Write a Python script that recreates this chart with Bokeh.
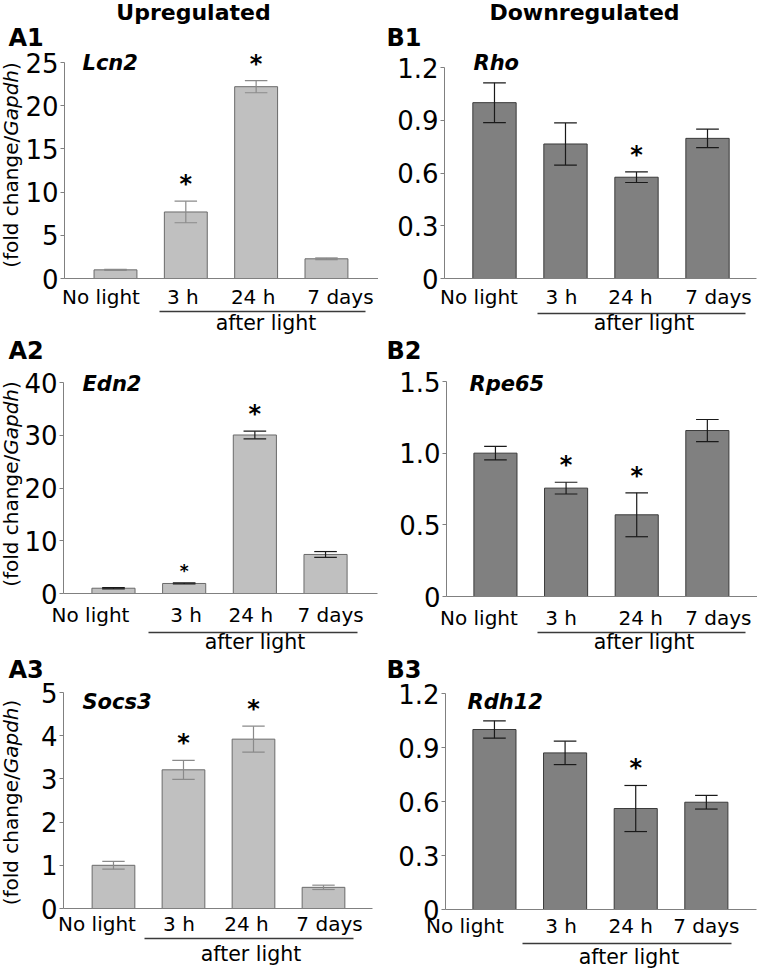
import math
from bokeh.plotting import figure
from bokeh.models import Label, FixedTicker, Range1d
from bokeh.layouts import column, row
from bokeh.embed import file_html
from bokeh.resources import INLINE

FONT = "DejaVu Sans"
BASE_FIX = 8  # rendered alphabetic baseline sits this many px lower than requested

conditions = ["No light", "3 h", "24 h", "7 days"]

lcn2_mean = [1.0, 7.7, 22.2, 2.28]
lcn2_err = [0.06, 1.25, 0.7, 0.1]
lcn2_sig = [False, True, True, False]
lcn2_ticks = [0, 5, 10, 15, 20, 25]
lcn2_labels = ["0", "5", "10", "15", "20", "25"]

edn2_mean = [1.0, 1.9, 30.05, 7.4]
edn2_err = [0.12, 0.1, 0.72, 0.55]
edn2_sig = [False, True, True, False]
edn2_ticks = [0, 10, 20, 30, 40]
edn2_labels = ["0", "10", "20", "30", "40"]

socs3_mean = [1.0, 3.21, 3.92, 0.49]
socs3_err = [0.09, 0.22, 0.3, 0.05]
socs3_sig = [False, True, True, False]
socs3_ticks = [0, 1, 2, 3, 4, 5]
socs3_labels = ["0", "1", "2", "3", "4", "5"]

rho_mean = [1.0, 0.765, 0.576, 0.797]
rho_err = [0.113, 0.12, 0.03, 0.053]
rho_sig = [False, False, True, False]
rho_ticks = [0, 0.3, 0.6, 0.9, 1.2]
rho_labels = ["0", "0.3", "0.6", "0.9", "1.2"]

rpe65_mean = [1.0, 0.756, 0.57, 1.158]
rpe65_err = [0.047, 0.041, 0.153, 0.077]
rpe65_sig = [False, True, True, False]
rpe65_ticks = [0, 0.5, 1.0, 1.5]
rpe65_labels = ["0", "0.5", "1.0", "1.5"]

rdh12_mean = [1.0, 0.87, 0.561, 0.596]
rdh12_err = [0.048, 0.065, 0.128, 0.038]
rdh12_sig = [False, False, True, False]
rdh12_ticks = [0, 0.3, 0.6, 0.9, 1.2]
rdh12_labels = ["0", "0.3", "0.6", "0.9", "1.2"]

UP_STYLE = dict(fill="#c0c0c0", edge="#6a6a6a")
DOWN_STYLE = dict(fill="#808080", edge="#3a3a3a")


def make_panel(gene, means, errs, sig, ticks, tick_labels, g, style, err_color, star_sizes):
    w, h = g["w"], g["h"]
    L, T, W, H = g["L"], g["T"], g["W"], g["H"]
    x0, x1 = g["xr"]
    ymax = ticks[-1]
    u = (x1 - x0) / W
    v = ymax / H
    X0 = x0 - L * u
    X1 = X0 + w * u
    Y1 = ymax + T * v
    Y0 = Y1 - h * v

    def dx(lx):
        return X0 + lx * u

    def dy(ly):
        return Y1 - ly * v

    def dyt(ly):  # baseline position for alphabetic text
        return dy(ly - BASE_FIX)

    p = figure(width=w, height=h, x_range=Range1d(X0, X1), y_range=Range1d(Y0, Y1),
               output_backend="svg", toolbar_location=None,
               min_border_left=0, min_border_right=0, min_border_top=0,
               min_border_bottom=0)
    p.outline_line_color = None
    p.xgrid.visible = False
    p.ygrid.visible = False
    p.background_fill_color = "white"
    p.border_fill_color = "white"

    idx = list(range(len(conditions)))
    p.vbar(x=idx, top=means, width=0.61, fill_color=style["fill"],
           line_color=style["edge"], line_width=1)

    lo = [m - e for m, e in zip(means, errs)]
    hi = [m + e for m, e in zip(means, errs)]
    cw = 0.16
    p.segment(x0=idx, y0=lo, x1=idx, y1=hi, line_color=err_color, line_width=1.2)
    p.segment(x0=[i - cw for i in idx], y0=hi, x1=[i + cw for i in idx], y1=hi,
              line_color=err_color, line_width=1.2)
    p.segment(x0=[i - cw for i in idx], y0=lo, x1=[i + cw for i in idx], y1=lo,
              line_color=err_color, line_width=1.2)

    for i, (s, top) in enumerate(zip(sig, hi)):
        if s:
            gap = 17 if star_sizes[i] == big else 12
            p.add_layout(Label(x=i, y=top + gap * v, text="*",
                               text_align="center", text_baseline="alphabetic",
                               text_font=FONT, text_font_style="bold",
                               text_font_size=star_sizes[i], text_color="black"))

    # axes drawn at fixed data locations
    yax = p.yaxis[0]
    yax.fixed_location = x0
    yax.bounds = (0, ymax)
    yax.ticker = FixedTicker(ticks=ticks)
    yax.major_label_overrides = dict(zip(ticks, tick_labels))
    yax.axis_line_color = "#808080"
    yax.major_tick_line_color = "#808080"
    yax.major_tick_out = 4
    yax.major_tick_in = 0
    yax.minor_tick_out = 0
    yax.minor_tick_in = 0
    yax.major_label_standoff = 2
    yax.major_label_text_font = FONT
    yax.major_label_text_font_size = "26px"
    yax.major_label_text_color = "black"

    xax = p.xaxis[0]
    xax.fixed_location = 0
    xax.bounds = (x0, x1)
    xax.ticker = FixedTicker(ticks=[])
    xax.axis_line_color = "#808080"
    xax.major_tick_line_color = None
    xax.minor_tick_line_color = None

    # category labels
    for i, (c, off) in enumerate(zip(conditions, g["cat_off"])):
        p.add_layout(Label(x=i, y=dyt(g["cat_y"]), x_offset=off, text=c,
                           text_align="center", text_baseline="alphabetic",
                           text_font=FONT, text_font_size="20px",
                           text_color="black"))
    # "after light" bracket line
    lx0, lx1, ly = g["line"]
    p.segment(x0=[dx(lx0)], y0=[dy(ly)], x1=[dx(lx1)], y1=[dy(ly)],
              line_color="#3a3a3a", line_width=1.5)
    ax_, ay_ = g["after"]
    p.add_layout(Label(x=dx(ax_), y=dyt(ay_), text="after light",
                       text_align="center", text_baseline="alphabetic",
                       text_font=FONT, text_font_size="20.5px", text_color="black"))
    # panel label and gene name
    px_, py_ = g["plabel_xy"]
    p.add_layout(Label(x=dx(px_), y=dyt(py_), text=g["plabel"],
                       text_align="left", text_baseline="alphabetic",
                       text_font=FONT, text_font_style="bold",
                       text_font_size="24px", text_color="black"))
    gx, gy = g["gene_xy"]
    p.add_layout(Label(x=dx(gx), y=dyt(gy), text=gene,
                       text_align="left", text_baseline="alphabetic",
                       text_font=FONT, text_font_style="bold italic",
                       text_font_size="21px", text_color="black"))
    if g.get("title"):
        t, tx, ty = g["title"]
        p.add_layout(Label(x=dx(tx), y=dyt(ty), text=t,
                           text_align="center", text_baseline="alphabetic",
                           text_font=FONT, text_font_style="bold",
                           text_font_size="22px", text_color="black"))
    if g.get("ytitle") is not None:
        yc = g["ytitle"]
        fs = 20
        pieces = [("(fold change/", "normal", 6.603), ("Gapdh", "italic", 3.292),
                  (")", "normal", 0.39)]
        total = sum(pc[2] for pc in pieces) * fs
        start = yc + total / 2
        for txt, sty, em in pieces:
            p.add_layout(Label(x=dx(10), y=dy(start), text=txt, angle=math.pi / 2,
                               text_align="left", text_baseline="middle",
                               text_font=FONT, text_font_style=sty,
                               text_font_size=f"{fs}px", text_color="black"))
            start -= em * fs
    return p


big = "24px"
small = "17px"

# row 1: page y 0-336 ; row 2: 336-655 ; row 3: 655-972
gA1 = dict(w=378, h=336, L=64, T=62, W=314, H=216, xr=(-0.725, 3.74),
           cat_y=304, cat_off=[-14.5, -3, -3, 14], line=(159, 365, 311),
           after=(265.5, 330), plabel="A1", plabel_xy=(8, 45), gene_xy=(82, 70),
           title=("Upregulated", 193, 20), ytitle=164.5)
gB1 = dict(w=379, h=336, L=66, T=67, W=312, H=211, xr=(-0.704, 3.69),
           cat_y=304, cat_off=[-15.5, -4, -6, 11], line=(159, 367, 313),
           after=(265.5, 330), plabel="B1", plabel_xy=(8, 45), gene_xy=(95, 70),
           title=("Downregulated", 206, 20), ytitle=None)
gA2 = dict(w=378, h=319, L=63, T=46, W=314, H=211, xr=(-0.707, 3.735),
           cat_y=286, cat_off=[-23, 2, -4, 5], line=(148, 357, 296),
           after=(254.5, 313), plabel="A2", plabel_xy=(8, 22), gene_xy=(82, 55),
           title=None, ytitle=147.5)
gB2 = dict(w=379, h=319, L=68, T=45, W=311, H=215, xr=(-0.693, 3.71),
           cat_y=289, cat_off=[-16.5, -5, 4, 11], line=(159, 367, 296),
           after=(265.5, 313), plabel="B2", plabel_xy=(8, 22), gene_xy=(91, 55),
           title=None, ytitle=None)
gA3 = dict(w=378, h=317, L=63, T=37, W=309, H=216, xr=(-0.714, 3.70),
           cat_y=276, cat_off=[-16.5, -4.5, -7, 6], line=(144, 353, 283),
           after=(250.5, 306), plabel="A3", plabel_xy=(8, 22), gene_xy=(82, 54),
           title=None, ytitle=147)
gB3 = dict(w=379, h=317, L=67, T=38, W=311, H=216, xr=(-0.693, 3.71),
           cat_y=278, cat_off=[-29.5, -4, -5, 0], line=(144, 353, 288),
           after=(250.5, 309), plabel="B3", plabel_xy=(8, 22), gene_xy=(89, 54),
           title=None, ytitle=None)

pA1 = make_panel("Lcn2", lcn2_mean, lcn2_err, lcn2_sig, lcn2_ticks, lcn2_labels, gA1,
                 UP_STYLE, "#8a8a8a", [big] * 4)
pB1 = make_panel("Rho", rho_mean, rho_err, rho_sig, rho_ticks, rho_labels, gB1,
                 DOWN_STYLE, "#1a1a1a", [big] * 4)
pA2 = make_panel("Edn2", edn2_mean, edn2_err, edn2_sig, edn2_ticks, edn2_labels, gA2,
                 UP_STYLE, "#1a1a1a", [big, small, big, big])
pB2 = make_panel("Rpe65", rpe65_mean, rpe65_err, rpe65_sig, rpe65_ticks, rpe65_labels, gB2,
                 DOWN_STYLE, "#1a1a1a", [big] * 4)
pA3 = make_panel("Socs3", socs3_mean, socs3_err, socs3_sig, socs3_ticks, socs3_labels, gA3,
                 UP_STYLE, "#8a8a8a", [big] * 4)
pB3 = make_panel("Rdh12", rdh12_mean, rdh12_err, rdh12_sig, rdh12_ticks, rdh12_labels, gB3,
                 DOWN_STYLE, "#1a1a1a", [big] * 4)

layout = column(row(pA1, pB1), row(pA2, pB2), row(pA3, pB3))

open("out.html", "w").write(file_html(layout, INLINE))
